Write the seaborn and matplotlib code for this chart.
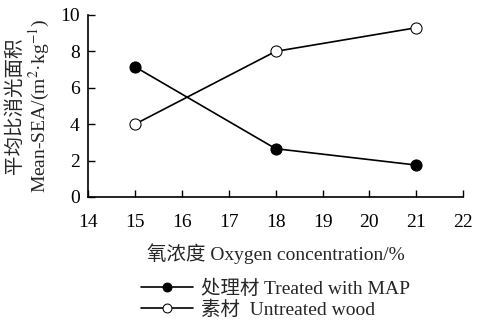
import seaborn as sns
import numpy as np
import pandas as pd
import matplotlib.pyplot as plt

# oxygen concentration (%) and mean SEA values
oxygen = [15, 18, 21]
treated = [7.15, 2.65, 1.75]
untreated = [4.0, 8.0, 9.3]
xticks = [14, 15, 16, 17, 18, 19, 20, 21, 22]
yticks = [0, 2, 4, 6, 8, 10]

data = pd.DataFrame({'oxygen': oxygen, 'treated': treated, 'untreated': untreated})

sns.set_style('ticks')
plt.rcParams['font.family'] = ['Liberation Serif', 'Noto Sans CJK SC']
plt.rcParams['mathtext.fontset'] = 'stix'
plt.rcParams['axes.unicode_minus'] = False

fig = plt.figure(figsize=(4.79, 3.26), dpi=100)
ax = fig.add_axes([0.184, 0.396, 0.783, 0.558])

sns.lineplot(data=data, x='oxygen', y='treated', ax=ax, color='k', lw=1.2,
             marker='o', markersize=8, markerfacecolor='k', markeredgecolor='k',
             label='处理材 Treated with MAP')
sns.lineplot(data=data, x='oxygen', y='untreated', ax=ax, color='k', lw=1.2,
             marker='o', markersize=8, markerfacecolor='white', markeredgecolor='k',
             label='素材  Untreated wood')

ax.set_xlim(14, 22)
ax.set_ylim(0, 10)
ax.set_xticks(xticks)
ax.set_yticks(yticks)
ax.tick_params(direction='in', length=5, width=1, labelsize=14, pad=6, colors='k')
ax.tick_params(axis='x', pad=12)
for s in ['top', 'right']:
    ax.spines[s].set_visible(False)
for s in ['left', 'bottom']:
    ax.spines[s].set_linewidth(1.2)
    ax.spines[s].set_color('k')

ax.set_xlabel('氧浓度 Oxygen concentration/%', fontsize=14, labelpad=9)
ax.set_ylabel('平均比消光面积\nMean-SEA/(m$^2$·kg$^{-1}$)', fontsize=14,
              linespacing=1.15, labelpad=6)

ax.get_legend().remove()
h, l = ax.get_legend_handles_labels()
fig.legend(h, l, loc='upper left', bbox_to_anchor=(0.274, 0.172), frameon=False,
           fontsize=14, handlelength=2.7, handletextpad=0.4, labelspacing=0.12,
           borderpad=0, markerscale=0.8)

fig.savefig('out.png', dpi=100)
